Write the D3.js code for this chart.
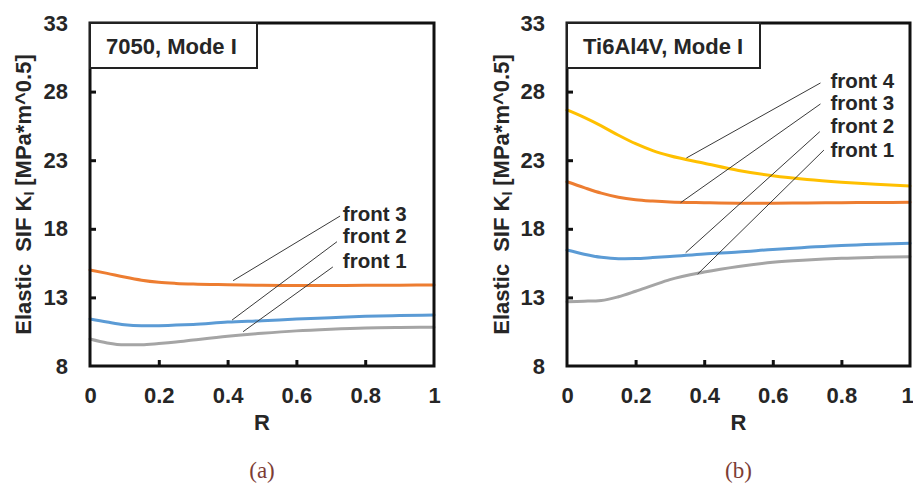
<!DOCTYPE html>
<html>
<head>
<meta charset="utf-8">
<script src="https://cdn.jsdelivr.net/npm/d3@7"></script>
<style>
  html, body { margin: 0; padding: 0; background: #fff; }
  svg { display: block; }
  text { font-family: "Liberation Sans", Arial, sans-serif; font-weight: bold; fill: #262626; }
</style>
</head>
<body>
<svg id="chart" width="913" height="487"></svg>
<script>
// ---------- data ----------
const rValues = [0, 0.05, 0.1, 0.15, 0.2, 0.25, 0.3, 0.4, 0.5, 0.6, 0.7, 0.8, 0.9, 1.0];

// (a) 7050, Mode I
const al7050Front1 = [9.97, 9.68, 9.54, 9.55, 9.64, 9.75, 9.89, 10.16, 10.38, 10.56, 10.68, 10.77, 10.81, 10.83];
const al7050Front2 = [11.43, 11.2, 11.0, 10.93, 10.94, 10.98, 11.03, 11.2, 11.3, 11.42, 11.52, 11.62, 11.68, 11.72];
const al7050Front3 = [15.0, 14.75, 14.48, 14.25, 14.1, 14.02, 13.97, 13.92, 13.88, 13.87, 13.87, 13.88, 13.89, 13.9];

// (b) Ti6Al4V, Mode I
const tiFront1 = [12.69, 12.72, 12.78, 13.05, 13.45, 13.88, 14.3, 14.85, 15.26, 15.56, 15.73, 15.85, 15.92, 15.97];
const tiFront2 = [16.45, 16.15, 15.92, 15.82, 15.83, 15.9, 15.98, 16.17, 16.31, 16.5, 16.65, 16.79, 16.88, 16.94];
const tiFront3 = [21.43, 21.0, 20.6, 20.3, 20.12, 20.02, 19.95, 19.9, 19.87, 19.87, 19.88, 19.9, 19.92, 19.93];
const tiFront4 = [26.66, 26.12, 25.5, 24.82, 24.2, 23.7, 23.32, 22.78, 22.25, 21.87, 21.6, 21.4, 21.24, 21.12];

const xTicks = [0, 0.2, 0.4, 0.6, 0.8, 1];
const xTickLabels = ["0", "0.2", "0.4", "0.6", "0.8", "1"];
const yTicks = [8, 13, 18, 23, 28, 33];
const yDomain = [8, 33];
const xDomain = [0, 1];

const seriesNamesA = ["front 1", "front 2", "front 3"];
const seriesNamesB = ["front 1", "front 2", "front 3", "front 4"];

// leader lines (data units): [R on curve, K on curve, R at label, K at label]
const leaderA = [
  [0.445, 10.50, 0.706, 15.22],
  [0.413, 11.35, 0.718, 17.06],
  [0.416, 14.22, 0.727, 18.93]
];
const labelPosA = [[0.735, 15.16], [0.735, 16.94], [0.735, 18.59]];

const leaderB = [
  [0.381, 14.70, 0.749, 23.74],
  [0.346, 16.26, 0.737, 25.08],
  [0.331, 19.90, 0.739, 27.10],
  [0.348, 23.16, 0.739, 28.63]
];
const labelPosB = [[0.768, 23.25], [0.768, 24.96], [0.768, 26.66], [0.768, 28.24]];

const colors = ["#A5A5A5", "#5B9BD5", "#ED7D31", "#FFC000"];

// ---------- drawing ----------
const svg = d3.select("#chart");

function drawPanel(opt) {
  const x = d3.scaleLinear().domain(xDomain).range([opt.left, opt.right]);
  const y = d3.scaleLinear().domain(yDomain).range([opt.bottom, opt.top]);
  const g = svg.append("g");

  // curves
  const line = d3.line()
    .x((d, i) => x(rValues[i]))
    .y(d => y(d))
    .curve(d3.curveMonotoneX);
  opt.series.forEach((s, i) => {
    g.append("path")
      .attr("d", line(s))
      .attr("fill", "none")
      .attr("stroke", colors[i])
      .attr("stroke-width", 3)
      .attr("stroke-linecap", "round");
  });

  // leader lines
  opt.leaders.forEach(l => {
    g.append("line")
      .attr("x1", x(l[0])).attr("y1", y(l[1]))
      .attr("x2", x(l[2])).attr("y2", y(l[3]))
      .attr("stroke", "#3a3a3a").attr("stroke-width", 1);
  });
  opt.labelPos.forEach((p, i) => {
    g.append("text")
      .attr("x", x(p[0])).attr("y", y(p[1]))
      .attr("font-size", 20.5)
      .text(opt.names[i]);
  });

  // axes
  const yAxis = d3.axisLeft(y).tickValues(yTicks).tickSizeInner(-6).tickSizeOuter(0).tickPadding(22);
  const gy = g.append("g").attr("transform", `translate(${opt.left},0)`).call(yAxis);
  const xAxis = d3.axisBottom(x).tickValues(xTicks).tickFormat((d, i) => xTickLabels[i])
    .tickSizeInner(-6).tickSizeOuter(0).tickPadding(21);
  const gx = g.append("g").attr("transform", `translate(0,${opt.bottom})`).call(xAxis);
  [gx, gy].forEach(a => {
    a.select(".domain").remove();
    a.selectAll(".tick line").attr("stroke", "#111").attr("stroke-width", 3);
    a.selectAll(".tick text")
      .attr("font-family", "Liberation Sans, Arial, sans-serif")
      .attr("font-weight", "bold")
      .attr("font-size", 22)
      .attr("fill", "#262626");
  });
  gy.selectAll(".tick").filter(d => d === yDomain[0] || d === yDomain[1]).select("line").remove();
  gx.selectAll(".tick").filter(d => d === xDomain[0] || d === xDomain[1]).select("line").remove();
  // keep the last x label inside the page
  gx.selectAll(".tick").filter(d => d === xDomain[1]).select("text").attr("dx", opt.lastDx || 0);

  // frame
  g.append("rect")
    .attr("x", opt.left).attr("y", opt.top)
    .attr("width", opt.right - opt.left).attr("height", opt.bottom - opt.top)
    .attr("fill", "none").attr("stroke", "#111").attr("stroke-width", 3);

  // title box
  g.append("rect")
    .attr("x", opt.left).attr("y", opt.top)
    .attr("width", opt.boxW).attr("height", 45)
    .attr("fill", "#fff").attr("stroke", "#222").attr("stroke-width", 2);
  g.append("text")
    .attr("x", opt.left + 16).attr("y", opt.top + 31)
    .attr("font-size", 22)
    .text(opt.title);

  // x label
  g.append("text")
    .attr("x", (opt.left + opt.right) / 2).attr("y", 430)
    .attr("text-anchor", "middle").attr("font-size", 22)
    .text("R");

  // y label
  const yl = g.append("text")
    .attr("transform", `translate(${opt.ylabX},${(opt.top + opt.bottom) / 2}) rotate(-90)`)
    .attr("text-anchor", "middle").attr("font-size", 22);
  yl.append("tspan").text("Elastic");
  yl.append("tspan").attr("dx", 12).text("SIF K");
  yl.append("tspan").attr("font-size", 14).attr("dy", 3).text("I");
  yl.append("tspan").attr("dy", -3).attr("dx", 6).text("[MPa*m^0.5]");

  // caption
  svg.append("text")
    .attr("x", (opt.left + opt.right) / 2).attr("y", 478)
    .attr("text-anchor", "middle")
    .style("font-family", "'Liberation Serif', 'DejaVu Serif', serif")
    .style("font-weight", "normal")
    .style("fill", "#7d3d35")
    .attr("font-size", 23)
    .text(opt.caption);
}

drawPanel({
  left: 90, right: 434, top: 23, bottom: 366,
  series: [al7050Front1, al7050Front2, al7050Front3],
  names: seriesNamesA, leaders: leaderA, labelPos: labelPosA,
  title: "7050, Mode I", boxW: 167, ylabX: 31, caption: "(a)"
});
drawPanel({
  left: 567, right: 910, top: 23, bottom: 366,
  series: [tiFront1, tiFront2, tiFront3, tiFront4],
  names: seriesNamesB, leaders: leaderB, labelPos: labelPosB,
  title: "Ti6Al4V, Mode I", boxW: 193, ylabX: 509, caption: "(b)", lastDx: -3
});
</script>
</body>
</html>
